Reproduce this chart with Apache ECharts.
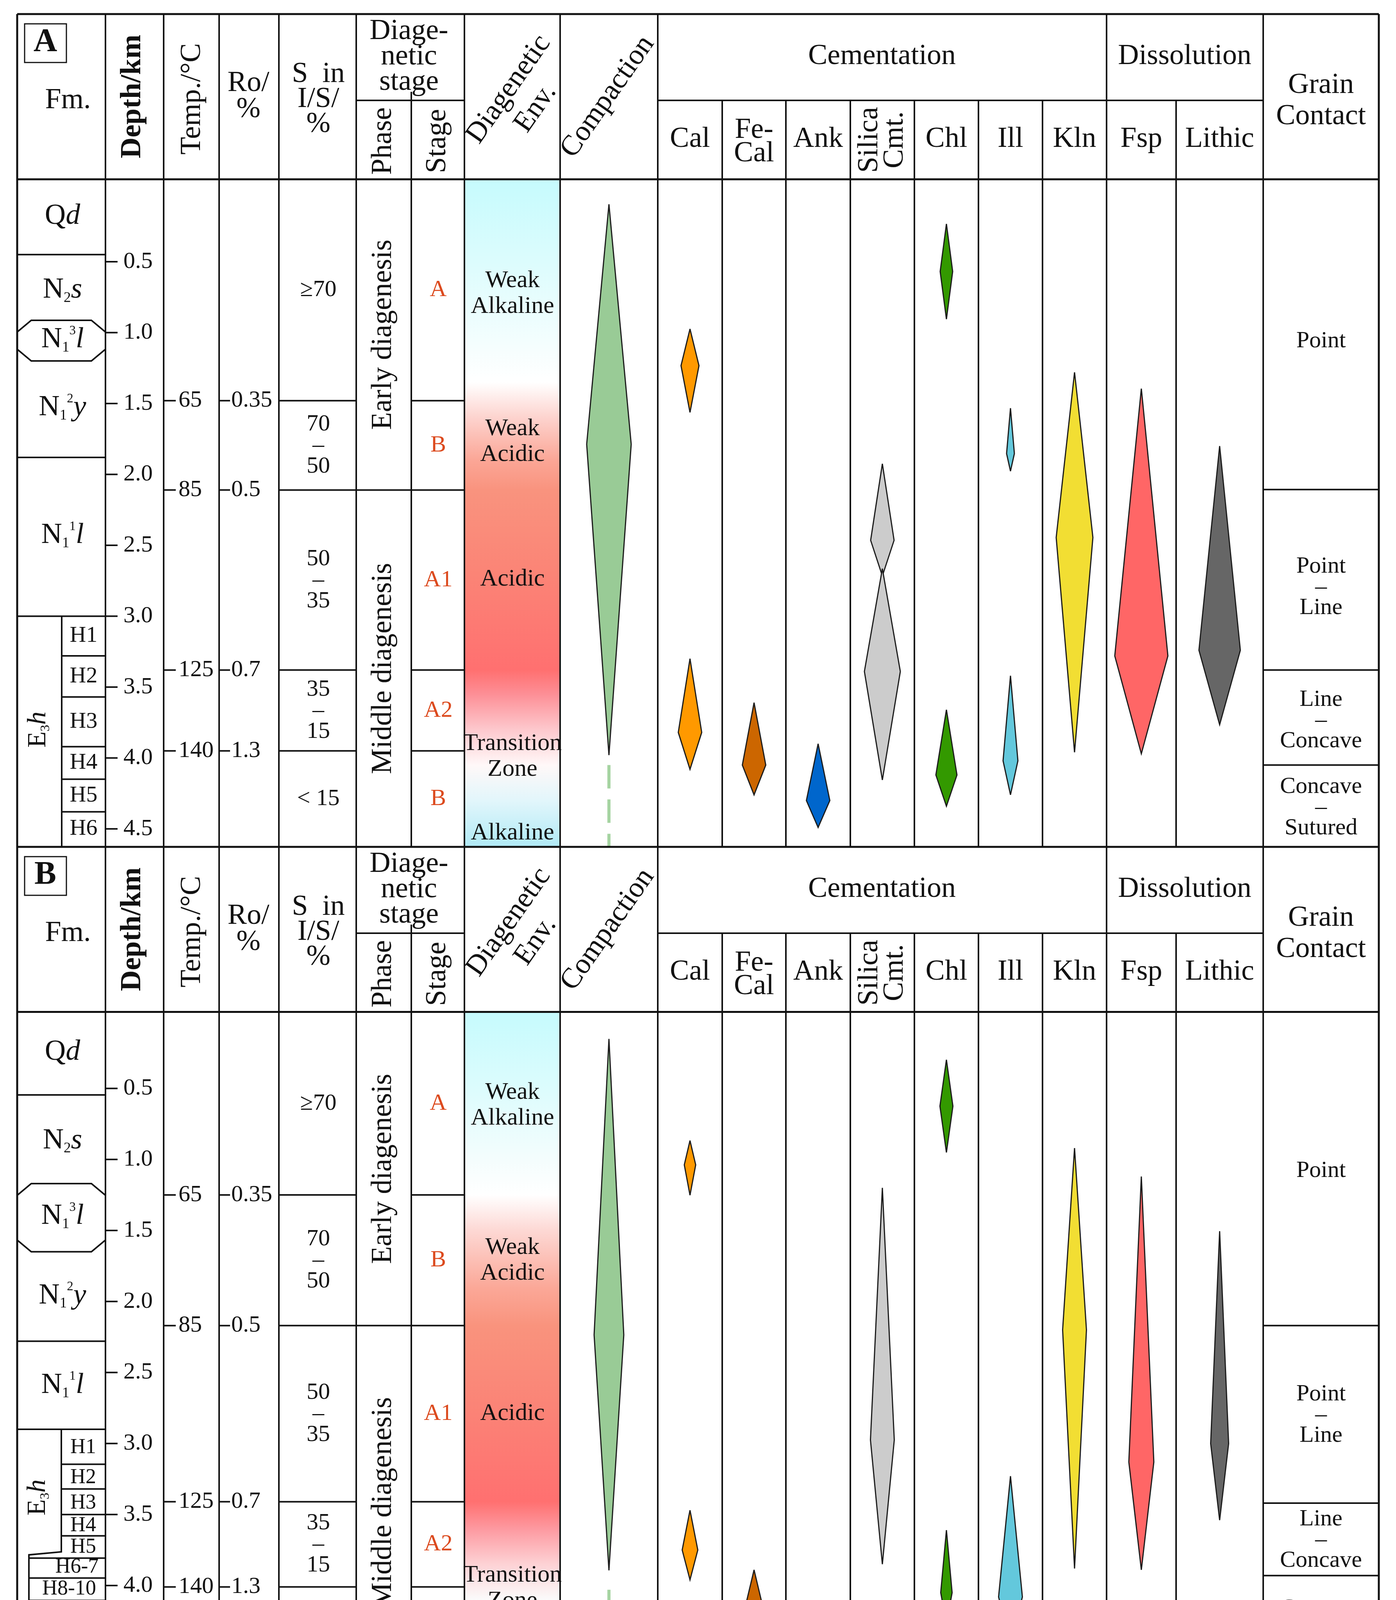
<!DOCTYPE html>
<html><head><meta charset="utf-8">
<script src="https://cdn.jsdelivr.net/npm/echarts@6/dist/echarts.min.js"></script>
<style>html,body{margin:0;padding:0;background:#fff}#c{width:3574px;height:4335px}</style>
</head><body><div id="c"></div>
<script>
// ================= DATA =================
const panelNames = ['A', 'B'];
const depthTicks = [0.5, 1.0, 1.5, 2.0, 2.5, 3.0, 3.5, 4.0, 4.5];
const tempLabels = ['65', '85', '125', '140'];
const roLabels = ['0.35', '0.5', '0.7', '1.3'];
const smectiteLabels = ['≥70', '70\n–\n50', '50\n–\n35', '35\n–\n15', '< 15'];
const stageLabels = ['A', 'B', 'A1', 'A2', 'B'];
const phaseLabels = ['Early diagenesis', 'Middle diagenesis'];
const envLabels = ['Weak\nAlkaline', 'Weak\nAcidic', 'Acidic', 'Transition\nZone', 'Alkaline'];
const grainLabels = ['Point', 'Point\n–\nLine', 'Line\n–\nConcave', 'Concave\n–\nSutured'];
const headerLabels = ['Fm.', 'Depth/km', 'Temp./°C', 'Ro/\n%', 'S  in\nI/S/\n%', 'Diage-\nnetic\nstage', 'Phase', 'Stage',
  'Diagenetic\nEnv.', 'Compaction', 'Cementation', 'Dissolution', 'Grain\nContact'];
const mineralHeaders = ['Cal', 'Fe-\nCal', 'Ank', 'Silica\nCmt.', 'Chl', 'Ill', 'Kln', 'Fsp', 'Lithic'];

// ---- Panel A (depth in km) ----
const zoneA = [1.48, 2.11, 3.38, 3.95];            // temp / Ro / I-S / stage boundaries
const envDepthA = [0.726, 1.77, 2.74, 3.99, 4.53];
const grainBoundA = [2.107, 3.38, 4.05];
const grainDepthA = [1.06, 2.795, 3.735, 4.35];
const fmBoundA = [0.45, 1.88, 3.0];
const fmOctA = [0.913, 1.20];
const fmNamesA = ['Q{it|d}', 'N{sub|2}{it|s}', 'N{sub|1}{sup|3}{it|l}', 'N{sub|1}{sup|2}{it|y}', 'N{sub|1}{sup|1}{it|l}'];
const fmDepthA = [0.18, 0.70, 1.05, 1.53, 2.43];
const memberNamesA = ['H1', 'H2', 'H3', 'H4', 'H5', 'H6'];
const memberBoundA = [3.28, 3.57, 3.92, 4.15, 4.38];
const memberDepthA = [3.14, 3.425, 3.745, 4.035, 4.265, 4.50];
const memberOutlineA = [3.0, 4.627];
const e3hDepthA = 3.80;
// diamonds: [top, widest, bottom, intensity]
const compactionA = [[0.095, 1.787, 3.98, 57]];
const compactionTailA = [4.05, 4.627];
const calA = [[0.974, 1.233, 1.563, 23], [3.30, 3.82, 4.08, 30]];
const feCalA = [[3.61, 4.05, 4.26, 30]];
const ankA = [[3.90, 4.30, 4.49, 30]];
const silicaA = [[1.925, 2.465, 2.716, 30], [2.665, 3.39, 4.155, 46]];
const chlA = [[0.233, 0.569, 0.905, 16], [3.66, 4.12, 4.34, 27]];
const illA = [[1.533, 1.853, 1.977, 10], [3.42, 4.02, 4.26, 19]];
const klnA = [[1.28, 2.445, 3.96, 47]];
const fspA = [[1.395, 3.28, 3.97, 68]];
const lithicA = [[1.80, 3.24, 3.765, 53]];

// ---- Panel B ----
const zoneB = [1.25, 2.17, 3.41, 4.01];
const envDepthB = [0.62, 1.71, 2.79, 4.02, 4.585];
const grainBoundB = [2.17, 3.42, 3.93];
const grainDepthB = [1.08, 2.80, 3.68, 4.31];
const fmBoundB = [0.546, 2.28, 2.90, 4.407];
const fmOctB = [1.17, 1.65];
const fmNamesB = ['Q{it|d}', 'N{sub|2}{it|s}', 'N{sub|1}{sup|3}{it|l}', 'N{sub|1}{sup|2}{it|y}', 'N{sub|1}{sup|1}{it|l}', 'E{sub|2}{it|p}'];
const fmDepthB = [0.245, 0.868, 1.40, 1.96, 2.59, 4.53];
const memberNamesB = ['H1', 'H2', 'H3', 'H4', 'H5', 'H6-7', 'H8-10', 'H11', 'H12'];
const memberBoundB = [3.146, 3.32, 3.50, 3.65, 3.807, 3.947, 4.105, 4.27];
const memberDepthB = [3.03, 3.24, 3.42, 3.58, 3.73, 3.87, 4.025, 4.19, 4.34];
const memberOutlineB = [2.90, 3.763, 3.784, 4.118, 4.136, 4.407];
const e3hDepthB = 3.38;
const compactionB = [[0.151, 2.235, 3.893, 38]];
const compactionTailB = [4.03, 4.55];
const calB = [[0.867, 1.038, 1.252, 14.6], [3.47, 3.75, 3.96, 20]];
const feCalB = [[3.89, 4.19, 4.34, 26]];
const ankB = [[4.13, 4.46, 4.63, 26]];
const silicaB = [[1.20, 2.975, 3.85, 30.5]];
const chlB = [[0.298, 0.625, 0.951, 16.6], [3.61, 4.05, 4.27, 14.6]];
const illB = [[3.23, 4.08, 4.41, 30.5]];
const klnB = [[0.92, 2.20, 3.88, 30.5]];
const fspB = [[1.12, 3.13, 3.89, 32]];
const lithicB = [[1.505, 3.0, 3.54, 23]];

// ================= LAYOUT & STYLE =================
const X0 = 44, XR = 3530;
const colX = [44, 270, 419, 561, 714, 912, 1053, 1189, 1434, 1684, 1849, 2012, 2177, 2341, 2505, 2669, 2833, 3011, 3234, 3530];
const PANELS = [
  {hTop: 36, sub: 257, hBot: 459, bBot: 2168, yMin: -0.0813, yMax: 4.627},
  {hTop: 2168, sub: 2389, hBot: 2590.6, bBot: 4300, yMin: -0.0385, yMax: 4.663}
];
const memberXB = [213, 213, 213, 213, 213, 197, 177, 214, 215];
const memberLeftB = [157, 157, 157, 157, 74, 74, 74, 157];
const outlineXB = [157, 157, 74, 74, 157, 157];
const headerPos = [[174, 258, 0, 0], [340, 247, 90, 0], [493, 253, 90, 0], [636, 247, 0, 67], [815, 255, 0, 64],
  [1047, 146, 0, 65], [982, 361, 90, 0], [1121, 361, 90, 0], [1337, 253, 55, 84], [1556, 248, 55, 0],
  [2258, 145, 0, 0], [3033, 145, 0, 0], [3382, 259, 0, 80]];
const mineralHeadPos = [[357, 0, 0], [364, 0, 60], [357, 0, 0], [358, 90, 65], [357, 0, 0], [357, 0, 0], [357, 0, 0], [357, 0, 0], [357, 0, 0]];
const STAGE_COLOR = '#dc4a1e';
const INK = '#111';
const FF = '"Liberation Serif","Times New Roman",serif';
const ENV_GRAD = [
  [[-0.09, '#c6fbfd'], [0.5, '#dcfcfd'], [1.1, '#f5fefe'], [1.35, '#ffffff'], [1.6, '#fdd3ce'], [1.9, '#fba696'], [2.11, '#f9937e'],
   [2.7, '#fb8476'], [3.38, '#ff7070'], [3.55, '#fd8f96'], [3.8, '#fdc8cd'], [4.05, '#fff8f8'], [4.3, '#e2f6fb'], [4.63, '#b0eaf6']],
  [[-0.04, '#c6fbfd'], [0.5, '#dcfcfd'], [1.0, '#f4fdfd'], [1.25, '#ffffff'], [1.5, '#fdd8d4'], [1.9, '#fba898'], [2.17, '#f9937d'],
   [2.8, '#fb8276'], [3.41, '#ff7070'], [3.6, '#fd99a0'], [3.85, '#fdd2d5'], [4.1, '#fbfbfb'], [4.35, '#e0f6fb'], [4.67, '#b0eaf6']]
];

const PD = [
  {zone: zoneA, env: envDepthA, gB: grainBoundA, gD: grainDepthA, fmB: fmBoundA, oct: fmOctA, fmN: fmNamesA, fmD: fmDepthA,
   mN: memberNamesA, mB: memberBoundA, mD: memberDepthA, mX: memberNamesA.map(() => 214), mL: memberBoundA.map(() => 158),
   outD: memberOutlineA, outX: [158, 158], e3h: e3hDepthA, e3hX: 98, tail: compactionTailA},
  {zone: zoneB, env: envDepthB, gB: grainBoundB, gD: grainDepthB, fmB: fmBoundB, oct: fmOctB, fmN: fmNamesB, fmD: fmDepthB,
   mN: memberNamesB, mB: memberBoundB, mD: memberDepthB, mX: memberXB, mL: memberLeftB,
   outD: memberOutlineB, outX: outlineXB, e3h: e3hDepthB, e3hX: 97, tail: compactionTailB}
];
const MINERALS = [
  {col: 8, color: '#99cb96', d: [compactionA, compactionB]},
  {col: 9, color: '#ff9900', d: [calA, calB]},
  {col: 10, color: '#cc6600', d: [feCalA, feCalB]},
  {col: 11, color: '#0066cc', d: [ankA, ankB]},
  {col: 12, color: '#cccccc', d: [silicaA, silicaB]},
  {col: 13, color: '#339900', d: [chlA, chlB]},
  {col: 14, color: '#63c8dc', d: [illA, illB]},
  {col: 15, color: '#f2de33', d: [klnA, klnB]},
  {col: 16, color: '#ff6666', d: [fspA, fspB]},
  {col: 17, color: '#666666', d: [lithicA, lithicB]}
];
const colC = i => (colX[i] + colX[i + 1]) / 2;

// ================= HELPERS =================
function font(size, it, bold) { return (it ? 'italic ' : 'normal ') + (bold ? 'bold ' : 'normal ') + size + 'px ' + FF; }
function txt(x, y, text, o) {
  o = o || {};
  const size = o.size || 60, al = o.align || 'center';
  const style = {text: text, x: 0, y: 0, fill: o.fill || INK, font: font(size, o.it, o.bold),
    align: al, textAlign: al, verticalAlign: 'middle', textVerticalAlign: 'middle'};
  if (o.lh) style.lineHeight = o.lh;
  if (o.rich) style.rich = o.rich;
  return {type: 'text', x: x, y: y, rotation: (o.rot || 0) * Math.PI / 180, z: 100, z2: 10, silent: true, style: style};
}
function fmRich(size) {
  return {
    sub: {font: font(Math.round(size * 0.5)), fill: INK, lineHeight: size * 0.4, verticalAlign: 'bottom'},
    sup: {font: font(Math.round(size * 0.45)), fill: INK, lineHeight: size * 0.45, verticalAlign: 'top'},
    it: {font: font(size, true), fill: INK, lineHeight: size * 1.05}
  };
}
function ln(x1, y1, x2, y2, w, extra) {
  return Object.assign({type: 'line', z: 100, silent: true, shape: {x1, y1, x2, y2}, style: {stroke: INK, lineWidth: w || 4}}, extra || {});
}

// ================= GRAPHIC (table frame & headers) =================
const G = [];
[36, 459, 2168, 2590.6, 4300].forEach(y => G.push(ln(X0, y, XR, y, 5)));
[44, 270, 419, 561, 714, 912, 1189, 1434, 1684, 2833, 3234, 3530].forEach((x, i, a) =>
  G.push(ln(x, 36, x, 4300, (i === 0 || i === a.length - 1) ? 5 : 4)));
PANELS.forEach((p, pi) => {
  const dy = p.hTop - 36;
  G.push(ln(912, p.sub, 1189, p.sub, 4));
  G.push(ln(1684, p.sub, 3234, p.sub, 4));
  G.push(ln(1053, p.hTop + 199, 1053, p.bBot, 4));
  [1849, 2012, 2177, 2341, 2505, 2669, 3011].forEach(x => G.push(ln(x, p.sub, x, p.bBot, 4)));
  G.push({type: 'rect', z: 100, silent: true, shape: {x: 63, y: p.hTop + 25, width: 107, height: 99}, style: {fill: 'none', stroke: INK, lineWidth: 3}});
  G.push(txt(116, p.hTop + 73, panelNames[pi], {size: 84, bold: true}));
  headerLabels.forEach((t, i) => {
    const hp = headerPos[i];
    G.push(txt(hp[0], hp[1] + dy, t, {size: 74, rot: hp[2], lh: hp[3] || undefined, bold: i === 1}));
  });
  mineralHeaders.forEach((t, i) => {
    const hp = mineralHeadPos[i];
    G.push(txt(colC(9 + i), hp[0] + dy, t, {size: 74, rot: hp[1], lh: hp[2] || undefined}));
  });
});

// ================= SERIES =================
const series = [];
function cs(p, data, draw, z) {
  series.push({type: 'custom', xAxisIndex: p, yAxisIndex: p, data: data, silent: true, clip: false, animation: false, z: z || 3,
    renderItem: (params, api) => ({type: 'group', children: draw(api, params.dataIndex)})});
}
const Y = (api, d) => api.coord([0, d])[1];
const XX = (api, x) => api.coord([x - X0, 0])[0];

PANELS.forEach((p, pi) => {
  const D = PD[pi];
  const cells = [p.yMin].concat(D.zone, [p.yMax]);
  // environment gradient
  cs(pi, [[0, p.yMin]], (api) => {
    const yt = Y(api, p.yMin), yb = Y(api, p.yMax);
    const stops = ENV_GRAD[pi].map(s => ({offset: Math.max(0, Math.min(1, (Y(api, s[0]) - yt) / (yb - yt))), color: s[1]}));
    const x1 = XX(api, colX[7]), x2 = XX(api, colX[8]);
    return [{type: 'rect', shape: {x: x1, y: yt, width: x2 - x1, height: yb - yt},
      style: {fill: new echarts.graphic.LinearGradient(0, 0, 0, 1, stops)}}];
  }, 1);
  // depth ticks
  cs(pi, depthTicks.map(d => [0, d]), (api, i) => {
    const y = Y(api, depthTicks[i]);
    return [ln(XX(api, 270), y, XX(api, 301), y, 4), txt(XX(api, 316), y, depthTicks[i].toFixed(1), {align: 'left', size: 60})];
  });
  // temperature & Ro ticks, zone lines
  cs(pi, D.zone.map(d => [0, d]), (api, i) => {
    const y = Y(api, D.zone[i]);
    const out = [
      ln(XX(api, 419), y, XX(api, 450), y, 4), txt(XX(api, 457), y, tempLabels[i], {align: 'left', size: 60}),
      ln(XX(api, 561), y, XX(api, 589), y, 4), txt(XX(api, 592), y, roLabels[i], {align: 'left', size: 60}),
      ln(XX(api, 714), y, XX(api, 912), y, 4), ln(XX(api, 1053), y, XX(api, 1189), y, 4)
    ];
    if (i === 1) out.push(ln(XX(api, 912), y, XX(api, 1053), y, 4));
    return out;
  });
  // I/S and stage cells
  cs(pi, smectiteLabels.map((_, i) => [0, (cells[i] + cells[i + 1]) / 2]), (api, i) => {
    const y = Y(api, (cells[i] + cells[i + 1]) / 2);
    return [txt(XX(api, 815), y, smectiteLabels[i], {size: 60, lh: 54}),
      txt(XX(api, 1122), y, stageLabels[i], {size: 60, fill: STAGE_COLOR})];
  });
  // phase
  const ph = [p.yMin, D.zone[1], p.yMax];
  cs(pi, phaseLabels.map((_, i) => [0, (ph[i] + ph[i + 1]) / 2]), (api, i) =>
    [txt(XX(api, 982), Y(api, (ph[i] + ph[i + 1]) / 2), phaseLabels[i], {size: 74, rot: 90})]);
  // environment labels
  cs(pi, envLabels.map((_, i) => [0, D.env[i]]), (api, i) =>
    [txt(XX(api, 1312), Y(api, D.env[i]), envLabels[i], {size: 62, lh: 66})]);
  // grain contact
  cs(pi, D.gB.map(d => [0, d]), (api, i) => {
    const y = Y(api, D.gB[i]);
    return [ln(XX(api, 3234), y, XX(api, 3530), y, 4)];
  });
  cs(pi, grainLabels.map((_, i) => [0, D.gD[i]]), (api, i) =>
    [txt(XX(api, 3382), Y(api, D.gD[i]), grainLabels[i], {size: 60, lh: 53})]);
  // formations
  cs(pi, D.fmB.map(d => [0, d]), (api, i) => {
    const y = Y(api, D.fmB[i]);
    return [ln(XX(api, 44), y, XX(api, 270), y, 4)];
  });
  cs(pi, [[0, D.oct[0]]], (api) => {
    const yt = Y(api, D.oct[0]), yb = Y(api, D.oct[1]);
    const x0 = XX(api, 44), x1 = XX(api, 270), cx = 36, cy = 30;
    return [{type: 'polygon', shape: {points: [[x0 + cx, yt], [x1 - cx, yt], [x1, yt + cy], [x1, yb - cy], [x1 - cx, yb], [x0 + cx, yb], [x0, yb - cy], [x0, yt + cy]]},
      style: {fill: '#fff', stroke: INK, lineWidth: 4}}];
  });
  cs(pi, D.fmN.map((_, i) => [0, D.fmD[i]]), (api, i) =>
    [txt(XX(api, 160), Y(api, D.fmD[i]), D.fmN[i], {size: 74, lh: 78, rich: fmRich(74)})], 4);
  cs(pi, D.mB.map(d => [0, d]), (api, i) => {
    const y = Y(api, D.mB[i]);
    return [ln(XX(api, D.mL[i]), y, XX(api, 270), y, 4)];
  });
  cs(pi, [[0, D.outD[0]]], (api) => [{type: 'polyline', shape: {points: D.outD.map((d, k) => [XX(api, D.outX[k]), Y(api, d)])},
    style: {fill: null, stroke: INK, lineWidth: 4}}]);
  cs(pi, D.mN.map((_, i) => [0, D.mD[i]]), (api, i) =>
    [txt(XX(api, D.mX[i]), Y(api, D.mD[i]), D.mN[i], {size: pi === 0 ? 58 : 54})]);
  cs(pi, [[0, D.e3h]], (api) => [txt(XX(api, D.e3hX), Y(api, D.e3h), 'E{sub|3}{it|h}', {size: 68, lh: 72, rot: 90, rich: fmRich(68)})]);
  // diamonds
  MINERALS.forEach(m => {
    const arr = m.d[pi], cx = colC(m.col);
    cs(pi, arr.map(a => [0, a[1]]), (api, i) => {
      const a = arr[i];
      const x = XX(api, cx), yt = Y(api, a[0]), ym = Y(api, a[1]), yb = Y(api, a[2]);
      const hw = api.size([a[3], 0])[0];
      return [{type: 'polygon', shape: {points: [[x, yt], [x + hw, ym], [x, yb], [x - hw, ym]]},
        style: {fill: m.color, stroke: '#1c1c1c', lineWidth: 3, lineJoin: 'miter', miterLimit: 4}}];
    }, 5);
  });
  // compaction tail
  cs(pi, [[0, D.tail[0]]], (api) => {
    const x = XX(api, colC(8));
    return [{type: 'line', shape: {x1: x, y1: Y(api, D.tail[0]), x2: x, y2: Y(api, D.tail[1])},
      style: {stroke: '#a6d4a2', lineWidth: 8, lineDash: [60, 28]}}];
  }, 5);
});

const chart = echarts.init(document.getElementById('c'), null, {width: 3574, height: 4335});
chart.setOption({
  backgroundColor: '#ffffff',
  animation: false,
  grid: PANELS.map(p => ({left: X0, top: p.hBot, width: XR - X0, height: p.bBot - p.hBot, show: false})),
  xAxis: PANELS.map((p, i) => ({type: 'value', gridIndex: i, min: 0, max: XR - X0, show: false})),
  yAxis: PANELS.map((p, i) => ({type: 'value', gridIndex: i, min: p.yMin, max: p.yMax, inverse: true, show: false})),
  graphic: G,
  series: series
});
</script>
</body></html>
